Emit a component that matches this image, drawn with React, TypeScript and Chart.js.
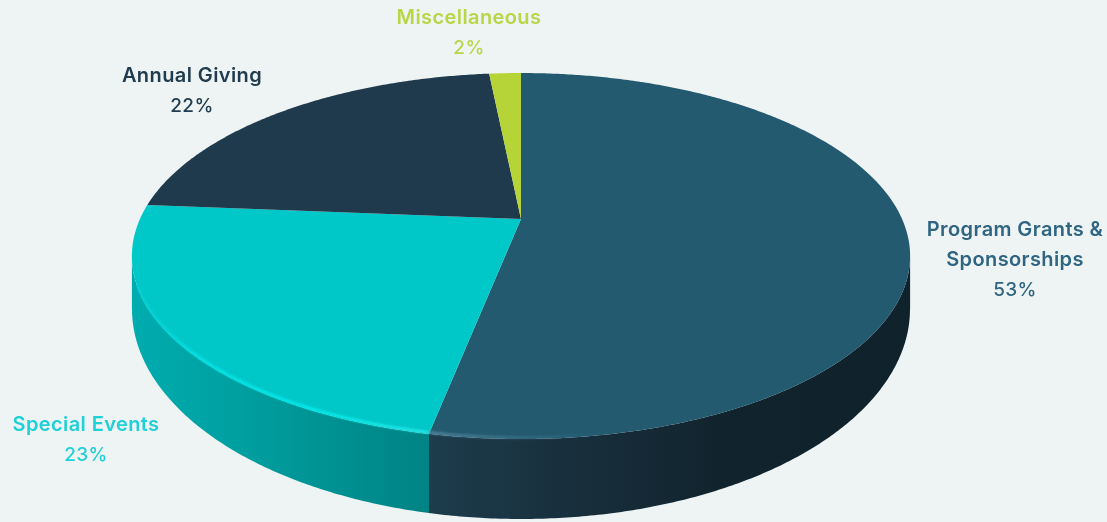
import React, { useEffect, useRef } from "react";
import { Chart, registerables } from "chart.js";

Chart.register(...registerables);

const categories = ["Program Grants & Sponsorships", "Special Events", "Annual Giving", "Miscellaneous"];
const values = [53.1, 23.2, 22.1, 1.6];
const topColors = ["#235a6f", "#00c8c9", "#1f3a4c", "#b6d338"];

const labelLines = [["Program Grants &", "Sponsorships"], ["Special Events"], ["Annual Giving"], ["Miscellaneous"]];
const labelColors = ["#2f6580", "#1fd0d6", "#213c4e", "#b8d648"];
const labelCentres = [[1015, 230], [86, 425], [192, 76], [469, 18]];

const W = 1107, H = 522;
const BG = "#eef3f4";
const K = 0.2023, SX = 1.74, SY = 0.8014;
const ELL_RX = 389, LOW_CY = 309, LOW_RY = 210, RIM_CY = 256;

const pie3d = {
  id: "pie3d",
  beforeDatasetDraw(chart: any) {
    const ctx: CanvasRenderingContext2D = chart.ctx;
    const arcs = chart.getDatasetMeta(0).data;
    const R = arcs[0].outerRadius, cx = arcs[0].x, cy = arcs[0].y;
    const project = (a: number, r = 1) => {
      const u = Math.cos(a) * r, v = Math.sin(a) * r, w = 1 - K * v;
      return [cx + (SX * R * u) / w, cy + (SY * R * v) / w];
    };
    const lower = (x: number) => {
      const d = Math.min(1, Math.abs(x - cx) / ELL_RX);
      return LOW_CY + LOW_RY * Math.sqrt(1 - d * d);
    };
    const angles = (el: any) => {
      const n = Math.max(8, Math.ceil((el.endAngle - el.startAngle) * 120));
      return Array.from({ length: n + 1 }, (_, i) => el.startAngle + ((el.endAngle - el.startAngle) * i) / n);
    };

    // side walls
    const wallStops: Record<number, string[]> = {
      0: ["#1d3c4c", "#182f3c", "#11242e", "#10222b"],
      1: ["#00acae", "#00a0a1", "#009192", "#008384"],
    };
    [0, 1].forEach((i) => {
      const pts = angles(arcs[i]).map((a) => project(a)).filter((p) => p[1] >= RIM_CY);
      const [x0, x1] = i === 0 ? [430, 860] : [135, 430];
      const g = ctx.createLinearGradient(x0, 0, x1, 0);
      const st = wallStops[i];
      st.forEach((c, j) => g.addColorStop(j / (st.length - 1), c));
      ctx.beginPath();
      pts.forEach((p, j) => (j ? ctx.lineTo(p[0], p[1]) : ctx.moveTo(p[0], p[1])));
      [...pts].reverse().forEach((p) => ctx.lineTo(p[0], lower(p[0])));
      ctx.closePath();
      ctx.fillStyle = g;
      ctx.fill();
    });

    // top face
    arcs.forEach((el: any, i: number) => {
      ctx.beginPath();
      ctx.moveTo(cx, cy);
      angles(el).forEach((a) => {
        const p = project(a);
        ctx.lineTo(p[0], p[1]);
      });
      ctx.closePath();
      ctx.fillStyle = topColors[i];
      ctx.fill();
    });

    // rim highlights
    ctx.save();
    ctx.filter = "blur(1.3px)";
    ctx.lineWidth = 2.5;
    ctx.lineCap = "butt";
    [1, 0].forEach((i) => {
      const pts = angles(arcs[i])
        .map((a) => project(a))
        .filter((p) => (i === 1 ? p[1] >= RIM_CY && p[0] > 137 : p[1] >= 400));
      ctx.beginPath();
      pts.forEach((p, j) => (j ? ctx.lineTo(p[0], p[1] - 1.5) : ctx.moveTo(p[0], p[1] - 1.5)));
      if (i === 1) {
        const g = ctx.createLinearGradient(135, 0, 430, 0);
        g.addColorStop(0, "rgba(0,215,220,0.5)");
        g.addColorStop(0.2, "#00e6e8");
        g.addColorStop(0.6, "#00f0f0");
        g.addColorStop(1, "#30e8e8");
        ctx.strokeStyle = g;
      } else {
        const g = ctx.createLinearGradient(432, 0, 620, 0);
        g.addColorStop(0, "rgba(90,140,165,0.9)");
        g.addColorStop(0.5, "rgba(70,125,150,0.55)");
        g.addColorStop(1, "rgba(40,100,125,0)");
        ctx.strokeStyle = g;
      }
      ctx.stroke();
    });
    ctx.restore();

    // labels
    ctx.textAlign = "center";
    ctx.textBaseline = "middle";
    (ctx as any).letterSpacing = "0.4px";
    const total = values.reduce((a, b) => a + b, 0);
    categories.forEach((_, i) => {
      const [lx, ly] = labelCentres[i];
      ctx.fillStyle = labelColors[i];
      ctx.font = "600 20px Inter, sans-serif";
      labelLines[i].forEach((t, j) => ctx.fillText(t, lx, ly + j * 30));
      ctx.font = "500 19px Inter, sans-serif";
      ctx.fillText(`${Math.round((values[i] / total) * 100)}%`, lx, ly + labelLines[i].length * 30);
    });
    (ctx as any).letterSpacing = "0px";
    return false;
  },
};

export default function App() {
  const ref = useRef<HTMLCanvasElement>(null);
  useEffect(() => {
    document.body.style.margin = "0";
    document.body.style.background = BG;
    const chart = new Chart(ref.current!, {
      type: "pie",
      data: {
        labels: categories,
        datasets: [{ data: values, backgroundColor: topColors, borderWidth: 0 }],
      },
      options: {
        responsive: false,
        animation: false,
        layout: { padding: { left: 0, top: 0, right: 65, bottom: 84 } },
        plugins: { legend: { display: false }, tooltip: { enabled: false } },
      },
      plugins: [pie3d],
    } as any);
    return () => chart.destroy();
  }, []);
  return (
    <div style={{ width: W, height: H, background: BG, overflow: "hidden" }}>
      <canvas ref={ref} width={W} height={H} style={{ display: "block", filter: "blur(0.6px)" }} />
    </div>
  );
}
